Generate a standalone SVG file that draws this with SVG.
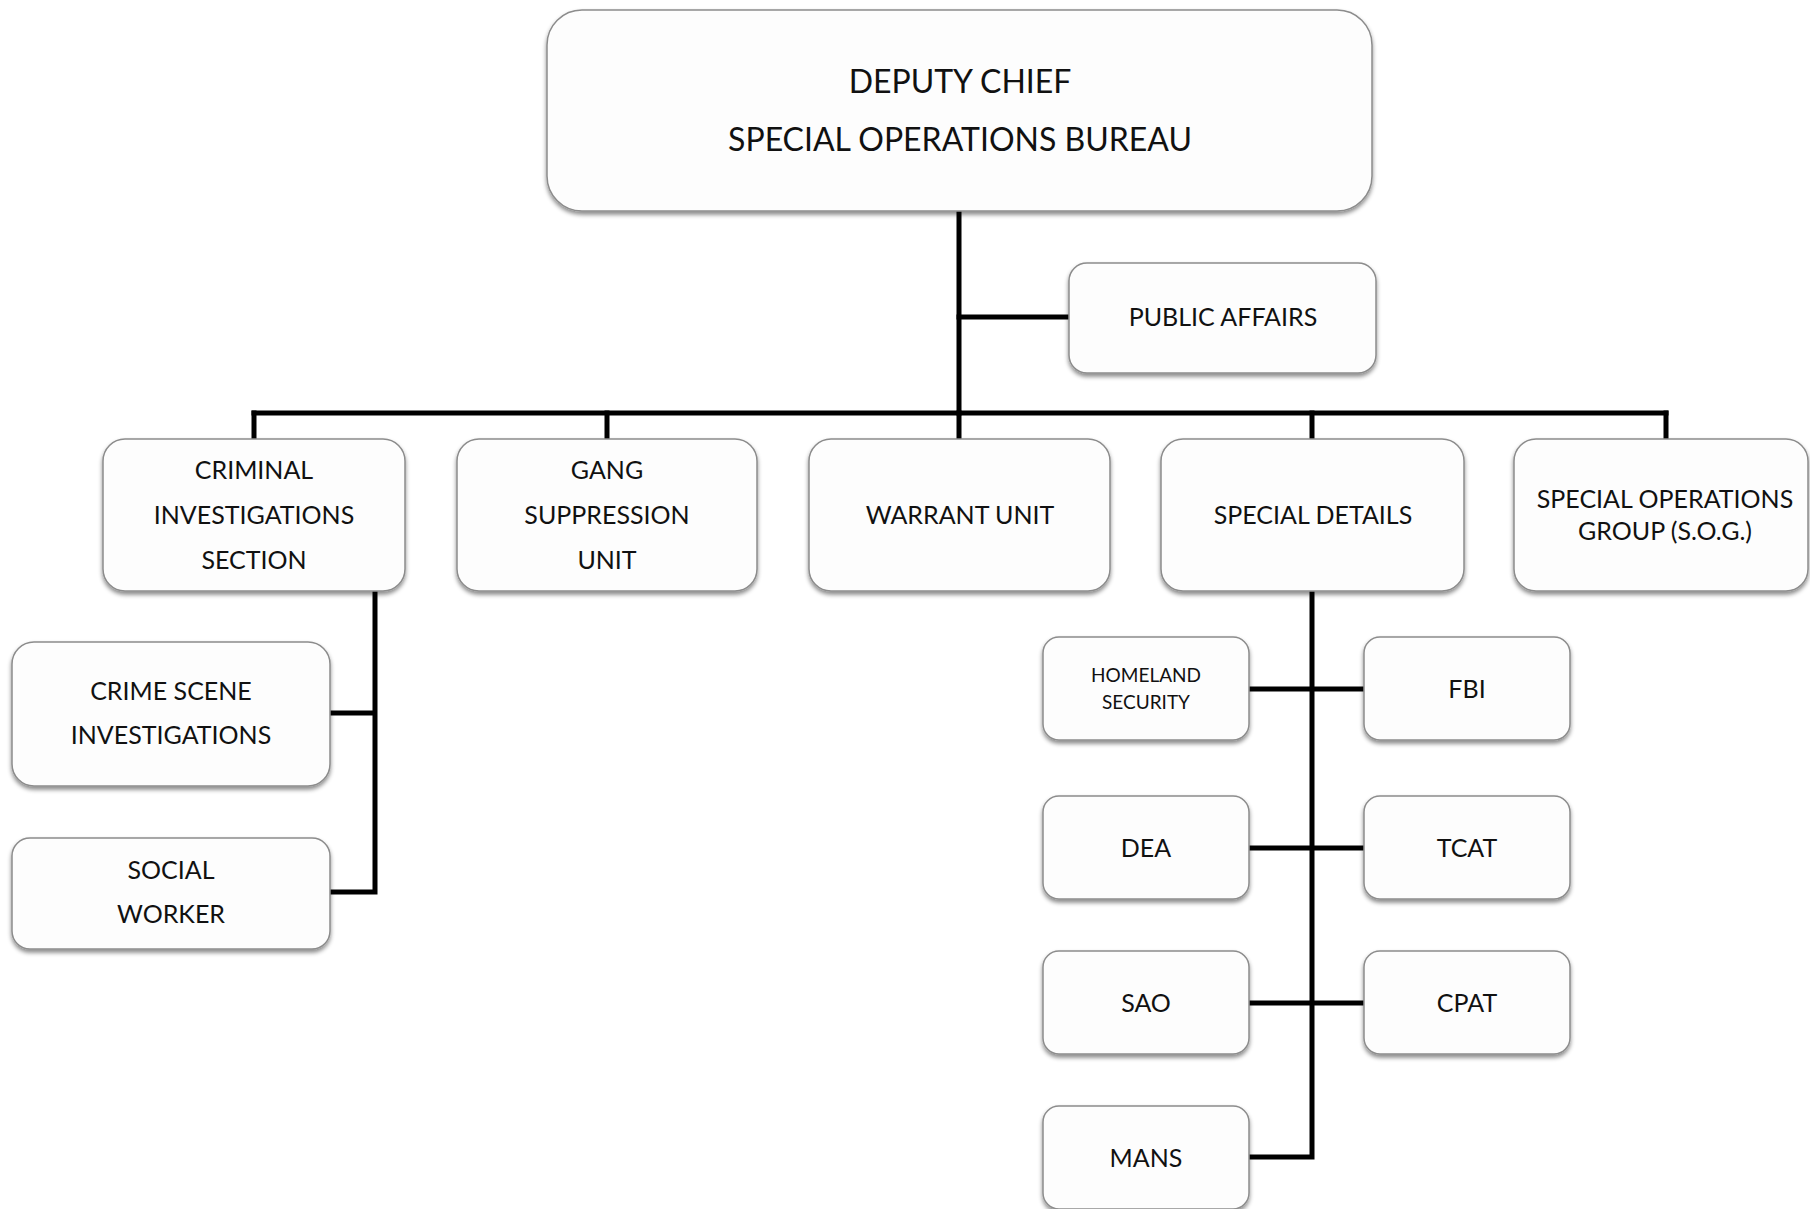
<svg xmlns="http://www.w3.org/2000/svg" width="1810" height="1209" viewBox="0 0 1810 1209">
<defs>
<filter id="sh" x="-10%" y="-10%" width="120%" height="130%">
<feDropShadow dx="0" dy="3" stdDeviation="2" flood-color="#000" flood-opacity="0.45"/>
</filter>
<style>
.box{fill:#fdfdfd;stroke:#8c8c8c;stroke-width:1.5;filter:url(#sh)}
.t{font-family:Lato,"Open Sans","Liberation Sans",sans-serif;font-size:25px;fill:#111;text-anchor:middle}
.tb{font-size:32px}
.ts{font-size:19px}
.c{stroke:#000;stroke-width:5;fill:none;stroke-linecap:square}
</style>
</defs>
<rect width="1810" height="1209" fill="#fff"/>
<g id="connectors">
<path class="c" d="M959,211 V413"/>
<path class="c" d="M959,317 H1069"/>
<path class="c" d="M254,413 H1666"/>
<path class="c" d="M254,413 V439 M607,413 V439 M959,413 V439 M1312,413 V439 M1666,413 V439"/>
<path class="c" d="M375,591 V892 M330,713 H375 M330,892 H375"/>
<path class="c" d="M1312,591 V1157 M1249,689 H1364 M1249,848 H1364 M1249,1003 H1364 M1249,1157 H1312"/>
</g>
<g id="deputy-chief"><rect class="box" x="547" y="10" width="825" height="201" rx="35"/>
<text class="t tb" x="960" y="93">DEPUTY CHIEF</text>
<text class="t tb" x="960" y="151">SPECIAL OPERATIONS BUREAU</text></g>
<g id="public-affairs"><rect class="box" x="1069" y="263" width="307" height="110" rx="18"/>
<text class="t" x="1223" y="326">PUBLIC AFFAIRS</text></g>
<g id="criminal-investigations"><rect class="box" x="103" y="439" width="302" height="152" rx="22"/>
<text class="t" x="254" y="479">CRIMINAL</text>
<text class="t" x="254" y="524">INVESTIGATIONS</text>
<text class="t" x="254" y="569">SECTION</text></g>
<g id="gang-suppression"><rect class="box" x="457" y="439" width="300" height="152" rx="22"/>
<text class="t" x="607" y="479">GANG</text>
<text class="t" x="607" y="524">SUPPRESSION</text>
<text class="t" x="607" y="569">UNIT</text></g>
<g id="warrant-unit"><rect class="box" x="809" y="439" width="301" height="152" rx="22"/>
<text class="t" x="960" y="524">WARRANT UNIT</text></g>
<g id="special-details"><rect class="box" x="1161" y="439" width="303" height="152" rx="22"/>
<text class="t" x="1313" y="524">SPECIAL DETAILS</text></g>
<g id="sog"><rect class="box" x="1514" y="439" width="294" height="152" rx="22"/>
<text class="t" x="1665" y="508">SPECIAL OPERATIONS</text>
<text class="t" x="1665" y="540">GROUP (S.O.G.)</text></g>
<g id="crime-scene"><rect class="box" x="12" y="642" width="318" height="144" rx="22"/>
<text class="t" x="171" y="700">CRIME SCENE</text>
<text class="t" x="171" y="744">INVESTIGATIONS</text></g>
<g id="social-worker"><rect class="box" x="12" y="838" width="318" height="111" rx="18"/>
<text class="t" x="171" y="879">SOCIAL</text>
<text class="t" x="171" y="923">WORKER</text></g>
<g id="homeland-security"><rect class="box" x="1043" y="637" width="206" height="103" rx="16"/>
<text class="t ts" x="1146" y="682">HOMELAND</text>
<text class="t ts" x="1146" y="709">SECURITY</text></g>
<g id="fbi"><rect class="box" x="1364" y="637" width="206" height="103" rx="16"/>
<text class="t" x="1467" y="698">FBI</text></g>
<g id="dea"><rect class="box" x="1043" y="796" width="206" height="103" rx="16"/>
<text class="t" x="1146" y="857">DEA</text></g>
<g id="tcat"><rect class="box" x="1364" y="796" width="206" height="103" rx="16"/>
<text class="t" x="1467" y="857">TCAT</text></g>
<g id="sao"><rect class="box" x="1043" y="951" width="206" height="103" rx="16"/>
<text class="t" x="1146" y="1012">SAO</text></g>
<g id="cpat"><rect class="box" x="1364" y="951" width="206" height="103" rx="16"/>
<text class="t" x="1467" y="1012">CPAT</text></g>
<g id="mans"><rect class="box" x="1043" y="1106" width="206" height="103" rx="16"/>
<text class="t" x="1146" y="1167">MANS</text></g>
</svg>
